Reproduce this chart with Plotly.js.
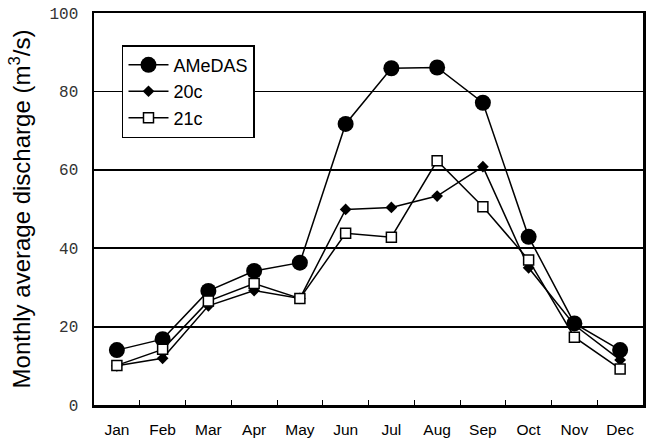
<!DOCTYPE html>
<html><head><meta charset="utf-8">
<script src="https://cdn.plot.ly/plotly-3.0.1.min.js"></script>
<style>html,body{margin:0;padding:0;background:#fff}</style>
</head><body>
<div id="chart" style="width:648px;height:441px"></div>
<script>
const months = ["Jan","Feb","Mar","Apr","May","Jun","Jul","Aug","Sep","Oct","Nov","Dec"];
const amedas = [14.0, 16.8, 29.1, 34.2, 36.3, 71.7, 85.9, 86.1, 77.1, 42.9, 20.8, 14.0];
const c20 = [10.0, 11.9, 25.3, 29.2, 27.2, 49.9, 50.4, 53.3, 60.8, 35.0, 20.4, 11.5];
const c21 = [10.1, 14.2, 26.5, 31.0, 27.2, 43.8, 42.8, 62.3, 50.6, 37.0, 17.3, 9.2];
const yTicks = [0, 20, 40, 60, 80, 100];

const traces = [
  {x: months, y: amedas, name: "AMeDAS", mode: "lines+markers",
   line: {color: "#000", width: 1.5},
   marker: {symbol: "circle", size: 16, color: "#000"}},
  {x: months, y: c20, name: "20c", mode: "lines+markers",
   line: {color: "#000", width: 1.5},
   marker: {symbol: "diamond", size: 9, color: "#000"}},
  {x: months, y: c21, name: "21c", mode: "lines+markers",
   line: {color: "#000", width: 1.5},
   marker: {symbol: "square", size: 10, color: "#fff", line: {color: "#000", width: 1.5}}}
];

const layout = {
  width: 648, height: 441,
  margin: {l: 94, r: 5, t: 13, b: 36},
  paper_bgcolor: "#fff", plot_bgcolor: "#fff",
  showlegend: true,
  legend: {x: 0.051, y: 0.918, xanchor: "left", yanchor: "top",
    bgcolor: "#fff", bordercolor: "#000", borderwidth: 1.5,
    font: {family: "Liberation Sans, Arial, sans-serif", size: 18, color: "#000"},
    tracegroupgap: 0, itemwidth: 40},
  xaxis: {type: "category", categoryarray: months, range: [-0.5, 11.5],
    showline: true, mirror: true, linecolor: "#000", linewidth: 2.5,
    ticks: "inside", tickson: "boundaries", ticklen: 5, tickcolor: "#000",
    showgrid: false, zeroline: false, ticklabelstandoff: 9,
    tickfont: {family: "Liberation Sans, Arial, sans-serif", size: 15.5, color: "#000"}},
  yaxis: {range: [0, 100], tickvals: yTicks, ticktext: yTicks.map(String),
    showline: true, mirror: true, linecolor: "#000", linewidth: 2.5,
    ticks: "inside", ticklen: 6, tickcolor: "#000",
    showgrid: true, gridcolor: "#000", gridwidth: 1.8, zeroline: false,
    ticklabelstandoff: 10,
    tickfont: {family: "Liberation Mono, Courier New, monospace", size: 16, color: "#333"},
    title: {text: "Monthly average discharge (m<sup>3</sup>/s)", standoff: 12,
      font: {family: "Liberation Sans, Arial, sans-serif", size: 24, color: "#000"}}},
  shapes: [
    {type: "rect", layer: "between", xref: "paper", yref: "y",
     x0: 0.006, x1: 0.324, y0: 78, y1: 82, fillcolor: "#fff", line: {width: 0}}
  ]
};

Plotly.newPlot("chart", traces, layout, {displayModeBar: false, staticPlot: true});
</script>
</body></html>
